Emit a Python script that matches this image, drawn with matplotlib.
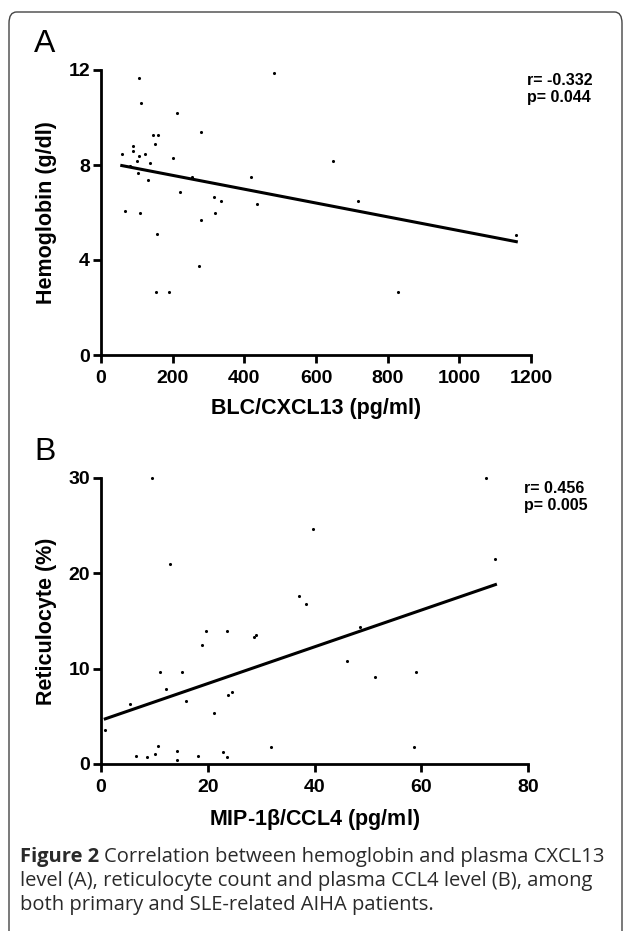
import numpy as np
import matplotlib
matplotlib.use("Agg")
import matplotlib.pyplot as plt
from matplotlib.patches import FancyBboxPatch

# Panel A: BLC/CXCL13 vs hemoglobin
cxcl13 = [58, 105, 111, 213, 280, 146, 158, 150, 88, 88, 122, 107, 202, 100,
          136, 81, 104, 131, 253, 418, 221, 315, 335, 434, 68, 108, 317, 280,
          156, 274, 153, 191, 484, 648, 716, 1159, 830]
hemoglobin = [8.48, 11.68, 10.6, 10.18, 9.38, 9.28, 9.28, 8.87, 8.79, 8.59,
              8.48, 8.37, 8.28, 8.17, 8.08, 7.97, 7.68, 7.38, 7.48, 7.48, 6.88,
              6.67, 6.48, 6.37, 6.06, 5.98, 5.98, 5.67, 5.08, 3.76, 2.67, 2.67,
              11.89, 8.17, 6.47, 5.07, 2.67]

# Panel B: MIP-1b/CCL4 vs reticulocyte
ccl4 = [9.5, 39.8, 13.0, 37.1, 38.4, 19.7, 23.6, 48.6, 18.9, 28.7, 29.1, 11.1,
        15.2, 46.1, 51.3, 12.2, 24.6, 23.8, 16.0, 5.4, 21.2, 0.8, 10.6, 31.8,
        6.5, 8.6, 10.1, 14.3, 14.2, 18.1, 22.9, 23.6, 72.2, 73.9, 59.0, 58.7]
reticulocyte = [30.0, 24.7, 21.0, 17.6, 16.8, 14.0, 14.0, 14.4, 12.5, 13.3,
                13.5, 9.7, 9.7, 10.8, 9.1, 7.9, 7.6, 7.2, 6.6, 6.3, 5.4, 3.6,
                1.9, 1.8, 0.84, 0.7, 1.1, 1.4, 0.42, 0.84, 1.3, 0.7, 29.96,
                21.5, 9.7, 1.8]

stats_a = ["r= -0.332", "p= 0.044"]
stats_b = ["r= 0.456", "p= 0.005"]

W, H = 629, 931
fig = plt.figure(figsize=(W / 100, H / 100), dpi=100)
fig.patch.set_facecolor("white")

# rounded frame around the figure
frame = FancyBboxPatch((9 / W, -0.05), 613 / W, (H - 12) / H + 0.05,
                       boxstyle="round,pad=0,rounding_size=0.012",
                       transform=fig.transFigure, fill=False,
                       edgecolor="#444444", linewidth=1.0)
fig.patches.append(frame)

axfont = "Liberation Sans"


def px_axes(left, top, right, bottom):
    return fig.add_axes([left / W, 1 - bottom / H, (right - left) / W,
                         (bottom - top) / H])


def style(ax):
    for s in ["top", "right"]:
        ax.spines[s].set_visible(False)
    for s in ["left", "bottom"]:
        ax.spines[s].set_linewidth(2.0)
    ax.tick_params(width=2.0, length=6, direction="out", labelsize=14)
    ax.tick_params(axis="x", pad=4.5)
    ax.tick_params(axis="y", pad=2.0)
    for lab in ax.get_xticklabels() + ax.get_yticklabels():
        lab.set_fontfamily(axfont)
        lab.set_fontweight("bold")


def panel(ax, x, y, xlim, ylim, xticks, yticks, xlabel, ylabel, stats):
    x = np.array(x)
    y = np.array(y)
    ax.scatter(x, y, s=5, color="black", zorder=3, clip_on=False,
               linewidths=0)
    k, b = np.polyfit(x, y, 1)
    xs = np.array([x.min(), x.max()])
    ax.plot(xs, k * xs + b, color="black", lw=2.2, clip_on=False)
    ax.set_xlim(*xlim)
    ax.set_ylim(*ylim)
    ax.set_xticks(xticks)
    ax.set_yticks(yticks)
    style(ax)
    ax.set_xlabel(xlabel, fontsize=15.5, fontweight="bold", family=axfont,
                  labelpad=8)
    ax.set_ylabel(ylabel, fontsize=15.5, fontweight="bold", family=axfont,
                  labelpad=8)
    ax.text(0.99, 0.99, stats[0] + "\n" + stats[1], transform=ax.transAxes,
            ha="left", va="top", fontsize=11.5, fontweight="bold",
            family=axfont, linespacing=1.2)


ax_a = px_axes(101, 70, 531, 355)
panel(ax_a, cxcl13, hemoglobin, (0, 1200), (0, 12),
      np.arange(0, 1201, 200), [0, 4, 8, 12],
      "BLC/CXCL13 (pg/ml)", "Hemoglobin (g/dl)", stats_a)

ax_b = px_axes(101, 478, 528, 764)
panel(ax_b, ccl4, reticulocyte, (0, 80), (0, 30),
      [0, 20, 40, 60, 80], [0, 10, 20, 30],
      r"MIP-1$\mathregular{\beta}$/CCL4 (pg/ml)", "Reticulocyte (%)", stats_b)

fig.text(34 / W, 1 - 44 / H, "A", fontsize=23, family=axfont, va="center")
fig.text(34 / W, 1 - 452 / H, "B", fontsize=23, family=axfont, va="center")

capfont = "Open Sans"
cap_color = "#2a2a2a"
cap_size = 14.5
t = fig.text(20 / W, 1 - 857 / H, "Figure 2", fontsize=cap_size,
             fontweight="bold", family=capfont, color=cap_color, va="center")
fig.canvas.draw()
bb = t.get_window_extent()
fig.text((bb.x1 + 5) / W, 1 - 857 / H,
         "Correlation between hemoglobin and plasma CXCL13",
         fontsize=cap_size, family=capfont, color=cap_color, va="center")
fig.text(20 / W, 1 - 881 / H,
         "level (A), reticulocyte count and plasma CCL4 level (B), among",
         fontsize=cap_size, family=capfont, color=cap_color, va="center")
fig.text(20 / W, 1 - 905 / H,
         "both primary and SLE-related AIHA patients.",
         fontsize=cap_size, family=capfont, color=cap_color, va="center")

fig.savefig("out.png", dpi=100)
